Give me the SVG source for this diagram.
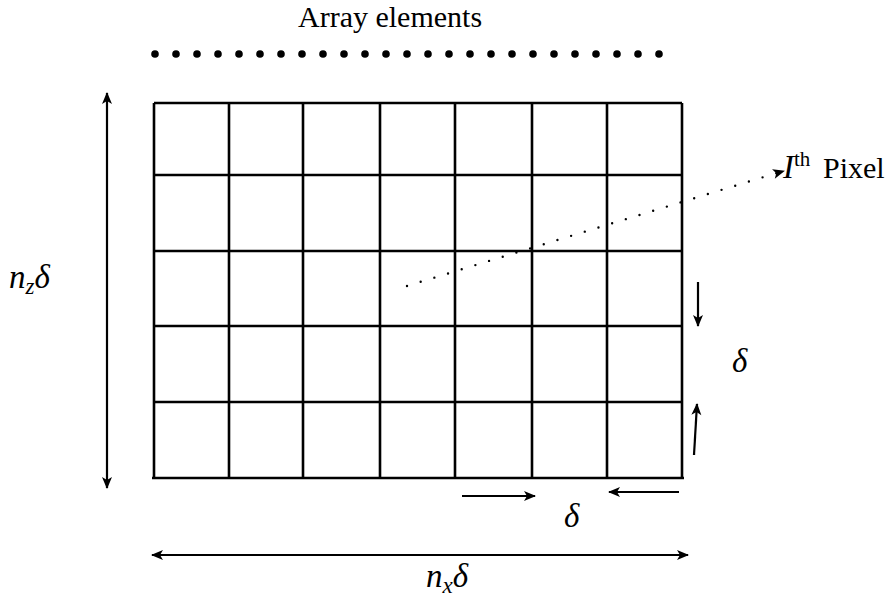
<svg xmlns="http://www.w3.org/2000/svg" width="893" height="602" viewBox="0 0 893 602">
<style>
.t{font-family:"Liberation Serif","DejaVu Serif","Noto Serif",serif;font-size:30px;fill:#000}
.m{font-family:"Liberation Serif","DejaVu Serif","Noto Serif",serif;font-style:italic;font-size:33px;fill:#000}
.g{stroke:#000;stroke-width:2.6;fill:none}
.a{stroke:#000;stroke-width:2.2;fill:none}
</style>
<defs>
<marker id="ah" viewBox="-12 -6 14 12" markerWidth="14" markerHeight="12" refX="0" refY="0" orient="auto-start-reverse" markerUnits="userSpaceOnUse">
<path d="M1,0 L-11,-5 L-8,0 L-11,5 Z" fill="#000"/>
</marker>
</defs>
<g id="title"><text class="t" x="298" y="27">Array elements</text></g>
<g id="array">
<g fill="#000">
<circle cx="155" cy="54" r="3.8"/><circle cx="176" cy="54" r="3.8"/><circle cx="197" cy="54" r="3.8"/><circle cx="218" cy="54" r="3.8"/><circle cx="239" cy="54" r="3.8"/><circle cx="260" cy="54" r="3.8"/><circle cx="281" cy="54" r="3.8"/><circle cx="302" cy="54" r="3.8"/><circle cx="323" cy="54" r="3.8"/><circle cx="344" cy="54" r="3.8"/><circle cx="365" cy="54" r="3.8"/><circle cx="386" cy="54" r="3.8"/><circle cx="407" cy="54" r="3.8"/><circle cx="428" cy="54" r="3.8"/><circle cx="449" cy="54" r="3.8"/><circle cx="470" cy="54" r="3.8"/><circle cx="491" cy="54" r="3.8"/><circle cx="512" cy="54" r="3.8"/><circle cx="533" cy="54" r="3.8"/><circle cx="554" cy="54" r="3.8"/><circle cx="575" cy="54" r="3.8"/><circle cx="596" cy="54" r="3.8"/><circle cx="617" cy="54" r="3.8"/><circle cx="638" cy="54" r="3.8"/><circle cx="659" cy="54" r="3.8"/>
</g>
</g>
<g id="grid" class="g">
<path d="M154,103 H682 M154,175 H682 M154,251 H682 M154,326 H682 M154,402 H682 M152,478 H684"/>
<path d="M154,103 V478 M229,103 V478 M303,103 V478 M380,103 V478 M455,103 V478 M532,103 V478 M607,103 V478 M682,103 V478"/>
</g>
<g id="connectors">
<line class="a" x1="107" y1="93" x2="107" y2="488" marker-start="url(#ah)" marker-end="url(#ah)"/>
<line class="a" x1="152" y1="555" x2="688" y2="555" marker-start="url(#ah)" marker-end="url(#ah)"/>
<line class="a" x1="462" y1="496" x2="535" y2="496" marker-end="url(#ah)"/>
<line class="a" x1="679" y1="492" x2="609" y2="492" marker-end="url(#ah)"/>
<line class="a" x1="698" y1="282" x2="698" y2="326" marker-end="url(#ah)"/>
<line class="a" x1="694" y1="455" x2="697" y2="404" marker-end="url(#ah)"/>
<line x1="407" y1="286" x2="780" y2="172" stroke="#000" stroke-width="2.4" stroke-linecap="round" stroke-dasharray="0 14.3"/>
<line x1="770" y1="175" x2="784" y2="171" stroke="none" marker-end="url(#ah)"/>
</g>
<g id="labels">
<text class="m" x="9" y="288">n<tspan font-size="23" dy="6">z</tspan><tspan dy="-6">δ</tspan></text>
<text class="m" x="426" y="587">n<tspan font-size="23" dy="6">x</tspan><tspan dy="-6">δ</tspan></text>
<text class="m" x="732" y="372">δ</text>
<text class="m" x="564" y="527">δ</text>
<text class="m" x="783" y="178" font-size="30">I<tspan font-style="normal" font-size="21" dy="-12">th</tspan></text>
<text class="t" x="823" y="178">Pixel</text>
</g>
</svg>
